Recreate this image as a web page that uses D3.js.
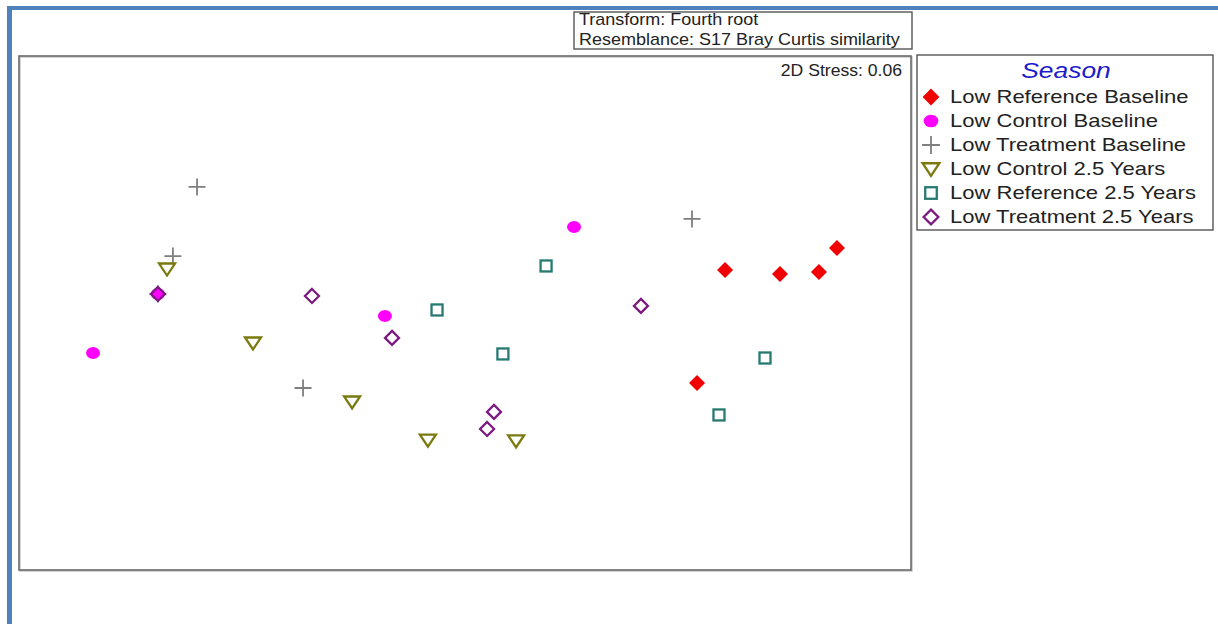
<!DOCTYPE html>
<html>
<head>
<meta charset="utf-8">
<script src="https://cdn.jsdelivr.net/npm/d3@7"></script>
<style>
  html, body { margin: 0; padding: 0; background: #fff; }
  svg { display: block; font-family: "Liberation Sans", Arial, sans-serif; }
</style>
</head>
<body>
<svg id="chart" width="1218" height="624"></svg>
<script>
// nMDS ordination coordinates (MDS1, MDS2) per sample group
const refBaseline   = [[1.283, 0.212], [1.554, 0.192], [1.746, 0.202], [1.835, 0.321], [1.145, -0.345]];
const ctrlBaseline  = [[-1.835, -0.197], [0.538, 0.424], [-0.395, -0.015], [-1.515, 0.094]];
const treatBaseline = [[-1.322, 0.622], [-1.441, 0.281], [-0.799, -0.370], [1.120, 0.464], [-1.515, 0.094]];
const ctrl25        = [[-1.470, 0.217], [-1.046, -0.148], [-0.557, -0.439], [-0.183, -0.627], [0.252, -0.631]];
const ref25         = [[0.400, 0.232], [-0.138, 0.015], [0.187, -0.202], [1.480, -0.222], [1.253, -0.503]];
const treat25       = [[-0.755, 0.084], [-0.360, -0.123], [0.868, 0.035], [0.143, -0.488], [0.109, -0.572], [-1.515, 0.094]];

const groupNames = ["Low Reference Baseline", "Low Control Baseline", "Low Treatment Baseline",
                    "Low Control 2.5 Years", "Low Reference 2.5 Years", "Low Treatment 2.5 Years"];
const headerLines = ["Transform: Fourth root", "Resemblance: S17 Bray Curtis similarity"];
const stressLabel = "2D Stress: 0.06";
const legendTitle = "Season";

const groups = [
  { name: groupNames[0], pts: refBaseline,   shape: "diamondFilled", color: "#f00000" },
  { name: groupNames[1], pts: ctrlBaseline,  shape: "circle",        color: "#ff00ff" },
  { name: groupNames[2], pts: treatBaseline, shape: "plus",          color: "#7f7f7f" },
  { name: groupNames[3], pts: ctrl25,        shape: "triangleDown",  color: "#7a7a10" },
  { name: groupNames[4], pts: ref25,         shape: "square",        color: "#267a72" },
  { name: groupNames[5], pts: treat25,       shape: "diamondOpen",   color: "#7d1a82" }
];

const svg = d3.select("#chart");

// page frame
svg.append("rect").attr("x", 0).attr("y", 0).attr("width", 1218).attr("height", 624).attr("fill", "#fff");
svg.append("rect").attr("x", 7).attr("y", 6).attr("width", 1211).attr("height", 4).attr("fill", "#4f81bd");
svg.append("rect").attr("x", 7).attr("y", 6).attr("width", 5).attr("height", 618).attr("fill", "#4f81bd");

// plot area
const plot = { left: 19, top: 56, right: 911, bottom: 570 };
const unit = 202.7;
const cx = 465, cy = 313;
const x = d3.scaleLinear()
  .domain([(plot.left - cx) / unit, (plot.right - cx) / unit])
  .range([plot.left, plot.right]);
const y = d3.scaleLinear()
  .domain([(cy - plot.bottom) / unit, (cy - plot.top) / unit])
  .range([plot.bottom, plot.top]);

svg.append("rect")
  .attr("x", plot.left + 1).attr("y", plot.top + 1)
  .attr("width", plot.right - plot.left).attr("height", plot.bottom - plot.top)
  .attr("fill", "none").attr("stroke", "#c8c8c8").attr("stroke-width", 1.5);
svg.append("rect")
  .attr("x", plot.left).attr("y", plot.top)
  .attr("width", plot.right - plot.left).attr("height", plot.bottom - plot.top)
  .attr("fill", "none").attr("stroke", "#6a6a6a").attr("stroke-width", 1.6);

// text with a slightly widened glyph run
function wideText(parent, tx, ty, sx, str) {
  return parent.append("text")
    .attr("transform", `translate(${tx},${ty}) scale(${sx},1)`)
    .text(str);
}

// header box
svg.append("rect").attr("x", 574).attr("y", 12).attr("width", 338).attr("height", 37)
  .attr("fill", "#fff").attr("stroke", "#555").attr("stroke-width", 1.4);
headerLines.forEach((line, i) => {
  wideText(svg, 579, 25 + i * 20, 1.125, line).attr("font-size", 16).attr("fill", "#222");
});

wideText(svg, 902, 76, 1.1, stressLabel)
  .attr("text-anchor", "end").attr("font-size", 16).attr("fill", "#222");

// marker drawing
function drawMarker(sel, shape, color, k) {
  k = k || 1;
  if (shape === "diamondFilled") {
    const r = 8 * k;
    sel.append("path").attr("d", `M0,${-r}L${r},0L0,${r}L${-r},0Z`).attr("fill", color);
  } else if (shape === "circle") {
    sel.append("ellipse").attr("rx", 7 * k).attr("ry", 6 * k).attr("fill", color);
  } else if (shape === "plus") {
    const r = 8.5 * k;
    sel.append("path").attr("d", `M${-r},0H${r}M0,${-r}V${r}`).attr("stroke", color).attr("stroke-width", 1.8).attr("fill", "none");
  } else if (shape === "triangleDown") {
    sel.append("path").attr("d", `M${-8 * k},${-5.5 * k}L${8 * k},${-5.5 * k}L0,${6.5 * k}Z`)
      .attr("stroke", color).attr("stroke-width", 2.3).attr("fill", "none");
  } else if (shape === "square") {
    const h = 5.5 * k;
    sel.append("rect").attr("x", -h).attr("y", -h).attr("width", 2 * h).attr("height", 2 * h)
      .attr("stroke", color).attr("stroke-width", 2.3).attr("fill", "none");
  } else if (shape === "diamondOpen") {
    const r = 7 * k;
    sel.append("path").attr("d", `M0,${-r}L${r},0L0,${r}L${-r},0Z`).attr("stroke", color).attr("stroke-width", 2.3).attr("fill", "none");
  }
}

// points, drawn group by group
const pointLayer = svg.append("g");
const drawOrder = [2, 0, 3, 4, 1, 5];
drawOrder.forEach(gi => {
  const g = groups[gi];
  pointLayer.selectAll(null).data(g.pts).join("g")
    .attr("transform", d => `translate(${x(d[0])},${y(d[1])})`)
    .each(function () { drawMarker(d3.select(this), g.shape, g.color, 1); });
});

// legend
svg.append("rect").attr("x", 917).attr("y", 55).attr("width", 296).attr("height", 175)
  .attr("fill", "#fff").attr("stroke", "#555").attr("stroke-width", 1.4);
wideText(svg, 1066, 78, 1.2, legendTitle)
  .attr("text-anchor", "middle").attr("font-size", 22).attr("font-style", "italic").attr("fill", "#1c1ccc");
const legendRows = svg.selectAll("g.leg").data(groups).join("g")
  .attr("class", "leg")
  .attr("transform", (d, i) => `translate(0,${103 + i * 24})`);
legendRows.append("g").attr("transform", "translate(931,-6)")
  .each(function (d) { drawMarker(d3.select(this), d.shape, d.color, 1.05); });
legendRows.each(function (d) {
  wideText(d3.select(this), 950, 0, 1.19, d.name).attr("font-size", 18.5).attr("fill", "#222");
});
</script>
</body>
</html>
